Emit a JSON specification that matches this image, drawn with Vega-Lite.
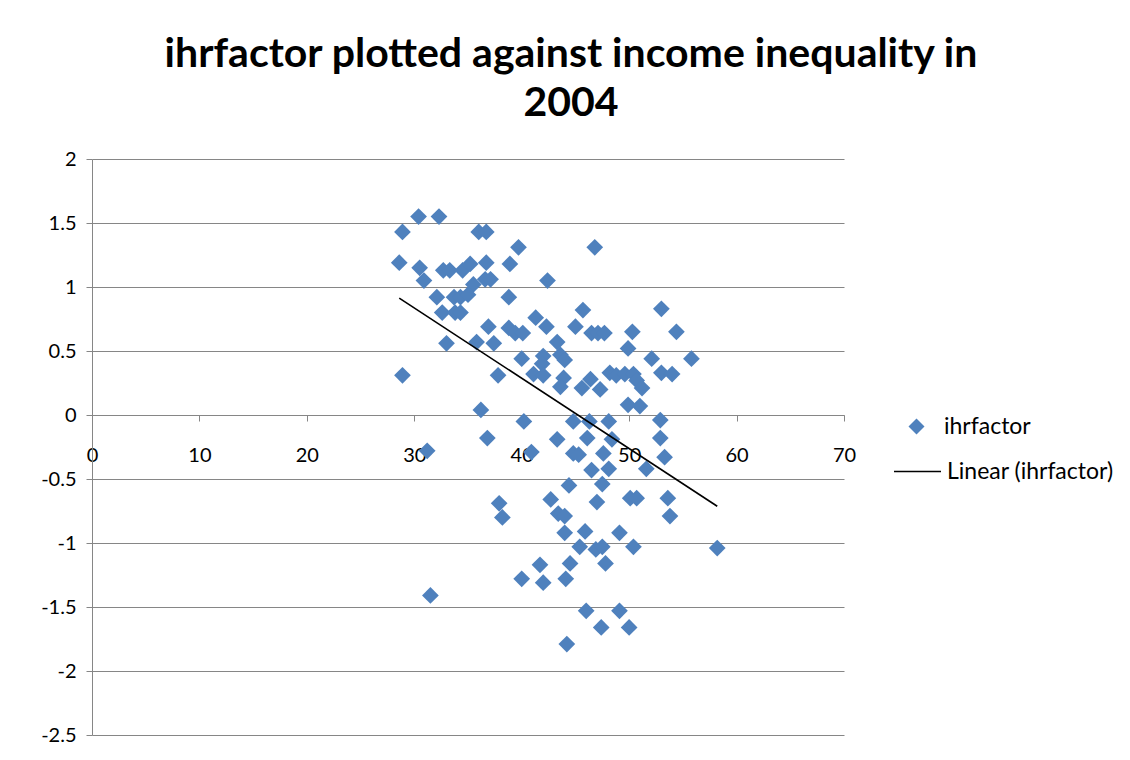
{
  "$schema": "https://vega.github.io/schema/vega-lite/v6.json",
  "width": 752,
  "height": 576,
  "autosize": "none",
  "padding": {"left": 92, "top": 159, "right": 286, "bottom": 25},
  "background": "white",
  "config": {"view": {"stroke": null}, "font": "Lato"},
  "title": {
    "text": ["ihrfactor plotted against income inequality in", "2004"],
    "fontSize": 41,
    "font": "Lato",
    "fontWeight": "bold",
    "color": "#000000",
    "anchor": "middle",
    "frame": "group",
    "dx": 103,
    "offset": 24,
    "lineHeight": 49
  },
  "data": {
    "values": [
      {"x": 30.4, "y": 1.55}, {"x": 32.3, "y": 1.55}, {"x": 28.9, "y": 1.43}, {"x": 36.0, "y": 1.43},
      {"x": 36.7, "y": 1.43}, {"x": 39.7, "y": 1.31}, {"x": 46.8, "y": 1.31}, {"x": 28.6, "y": 1.19},
      {"x": 30.5, "y": 1.15}, {"x": 32.7, "y": 1.13}, {"x": 33.3, "y": 1.13}, {"x": 34.5, "y": 1.13},
      {"x": 35.2, "y": 1.18}, {"x": 36.7, "y": 1.19}, {"x": 38.9, "y": 1.18}, {"x": 30.9, "y": 1.05},
      {"x": 36.6, "y": 1.06}, {"x": 37.1, "y": 1.06}, {"x": 42.4, "y": 1.05}, {"x": 35.5, "y": 1.02},
      {"x": 32.1, "y": 0.92}, {"x": 33.7, "y": 0.92}, {"x": 34.3, "y": 0.92}, {"x": 35.0, "y": 0.94},
      {"x": 38.8, "y": 0.92}, {"x": 32.6, "y": 0.80}, {"x": 33.8, "y": 0.80}, {"x": 34.3, "y": 0.80},
      {"x": 45.7, "y": 0.82}, {"x": 53.0, "y": 0.83}, {"x": 41.3, "y": 0.76}, {"x": 36.9, "y": 0.69},
      {"x": 38.8, "y": 0.68}, {"x": 42.3, "y": 0.69}, {"x": 45.0, "y": 0.69}, {"x": 39.4, "y": 0.64},
      {"x": 40.1, "y": 0.64}, {"x": 46.5, "y": 0.64}, {"x": 47.1, "y": 0.64}, {"x": 47.7, "y": 0.64},
      {"x": 50.3, "y": 0.65}, {"x": 54.4, "y": 0.65}, {"x": 33.0, "y": 0.56}, {"x": 35.8, "y": 0.57},
      {"x": 37.4, "y": 0.56}, {"x": 43.3, "y": 0.57}, {"x": 49.9, "y": 0.52}, {"x": 40.0, "y": 0.44},
      {"x": 42.0, "y": 0.46}, {"x": 43.6, "y": 0.47}, {"x": 44.0, "y": 0.43}, {"x": 52.1, "y": 0.44},
      {"x": 55.8, "y": 0.44}, {"x": 41.9, "y": 0.40}, {"x": 28.9, "y": 0.31}, {"x": 37.8, "y": 0.31},
      {"x": 41.1, "y": 0.32}, {"x": 42.0, "y": 0.31}, {"x": 43.9, "y": 0.29}, {"x": 46.4, "y": 0.28},
      {"x": 48.2, "y": 0.33}, {"x": 48.8, "y": 0.31}, {"x": 49.6, "y": 0.32}, {"x": 50.4, "y": 0.32},
      {"x": 50.7, "y": 0.27}, {"x": 53.0, "y": 0.33}, {"x": 54.0, "y": 0.32}, {"x": 43.6, "y": 0.22},
      {"x": 45.6, "y": 0.21}, {"x": 47.3, "y": 0.20}, {"x": 51.2, "y": 0.21}, {"x": 36.2, "y": 0.04},
      {"x": 49.9, "y": 0.08}, {"x": 51.0, "y": 0.07}, {"x": 40.2, "y": -0.05}, {"x": 44.8, "y": -0.05},
      {"x": 46.3, "y": -0.05}, {"x": 48.1, "y": -0.05}, {"x": 52.9, "y": -0.04}, {"x": 36.8, "y": -0.18},
      {"x": 43.3, "y": -0.19}, {"x": 46.1, "y": -0.18}, {"x": 48.4, "y": -0.19}, {"x": 52.9, "y": -0.18},
      {"x": 31.2, "y": -0.28}, {"x": 40.9, "y": -0.29}, {"x": 44.8, "y": -0.30}, {"x": 45.3, "y": -0.31},
      {"x": 47.6, "y": -0.30}, {"x": 53.3, "y": -0.33}, {"x": 46.5, "y": -0.43}, {"x": 48.1, "y": -0.42},
      {"x": 51.6, "y": -0.42}, {"x": 44.4, "y": -0.55}, {"x": 47.5, "y": -0.54}, {"x": 37.9, "y": -0.69},
      {"x": 38.2, "y": -0.80}, {"x": 42.7, "y": -0.66}, {"x": 47.0, "y": -0.68}, {"x": 50.1, "y": -0.65},
      {"x": 50.7, "y": -0.65}, {"x": 53.6, "y": -0.65}, {"x": 53.8, "y": -0.79}, {"x": 43.4, "y": -0.77},
      {"x": 44.0, "y": -0.79}, {"x": 44.0, "y": -0.92}, {"x": 45.9, "y": -0.91}, {"x": 49.1, "y": -0.92},
      {"x": 45.4, "y": -1.03}, {"x": 46.9, "y": -1.05}, {"x": 47.5, "y": -1.03}, {"x": 50.4, "y": -1.03},
      {"x": 58.2, "y": -1.04}, {"x": 41.7, "y": -1.17}, {"x": 44.5, "y": -1.16}, {"x": 47.8, "y": -1.16},
      {"x": 40.0, "y": -1.28}, {"x": 42.0, "y": -1.31}, {"x": 44.1, "y": -1.28}, {"x": 31.5, "y": -1.41},
      {"x": 46.0, "y": -1.53}, {"x": 49.1, "y": -1.53}, {"x": 47.4, "y": -1.66}, {"x": 50.0, "y": -1.66},
      {"x": 44.2, "y": -1.79}
    ]
  },
  "layer": [
    {
      "mark": {"type": "point", "filled": true, "size": 280, "opacity": 1, "color": "#4F81BD"},
      "encoding": {
        "x": {
          "field": "x", "type": "quantitative",
          "scale": {"domain": [0, 70], "nice": false, "zero": false},
          "axis": {
            "title": null, "values": [0, 10, 20, 30, 40, 50, 60, 70], "offset": -320, "grid": false,
            "domainColor": "#868686", "tickColor": "#868686", "tickSize": 6,
            "labelFontSize": 20, "labelFont": "Lato", "labelColor": "#000000", "labelPadding": 24, "labelFlush": false
          }
        },
        "y": {
          "field": "y", "type": "quantitative",
          "scale": {"domain": [-2.5, 2], "nice": false, "zero": false},
          "axis": {
            "title": null, "values": [-2.5, -2, -1.5, -1, -0.5, 0, 0.5, 1, 1.5, 2], "grid": true,
            "gridColor": "#868686", "domainColor": "#868686", "tickColor": "#868686", "tickSize": 6,
            "labelFontSize": 20, "labelFont": "Lato", "labelColor": "#000000", "labelPadding": 10,
            "labelExpr": "datum.value + ''"
          }
        },
        "shape": {
          "datum": "ihrfactor",
          "scale": {"domain": ["ihrfactor"], "range": ["diamond"]},
          "legend": {
            "title": null, "orient": "none", "legendX": 813, "legendY": 256,
            "labelFontSize": 23, "labelFont": "Lato", "labelColor": "#000000", "labelLimit": 0,
            "symbolSize": 256, "labelOffset": 16,
            "symbolFillColor": "#4F81BD", "symbolStrokeColor": "#4F81BD", "symbolOpacity": 1
          }
        }
      }
    },
    {
      "transform": [{"regression": "y", "on": "x"}],
      "mark": {"type": "line", "strokeWidth": 1.6},
      "encoding": {
        "x": {"field": "x", "type": "quantitative"},
        "y": {"field": "y", "type": "quantitative"},
        "color": {
          "datum": "Linear (ihrfactor)",
          "scale": {"domain": ["Linear (ihrfactor)"], "range": ["#000000"]},
          "legend": {
            "title": null, "orient": "none", "legendX": 801, "legendY": 288,
            "labelFontSize": 23, "labelFont": "Lato", "labelColor": "#000000", "labelLimit": 0,
            "symbolType": "stroke", "symbolSize": 2209, "symbolStrokeWidth": 1.6, "labelOffset": 5
          }
        }
      }
    }
  ]
}
